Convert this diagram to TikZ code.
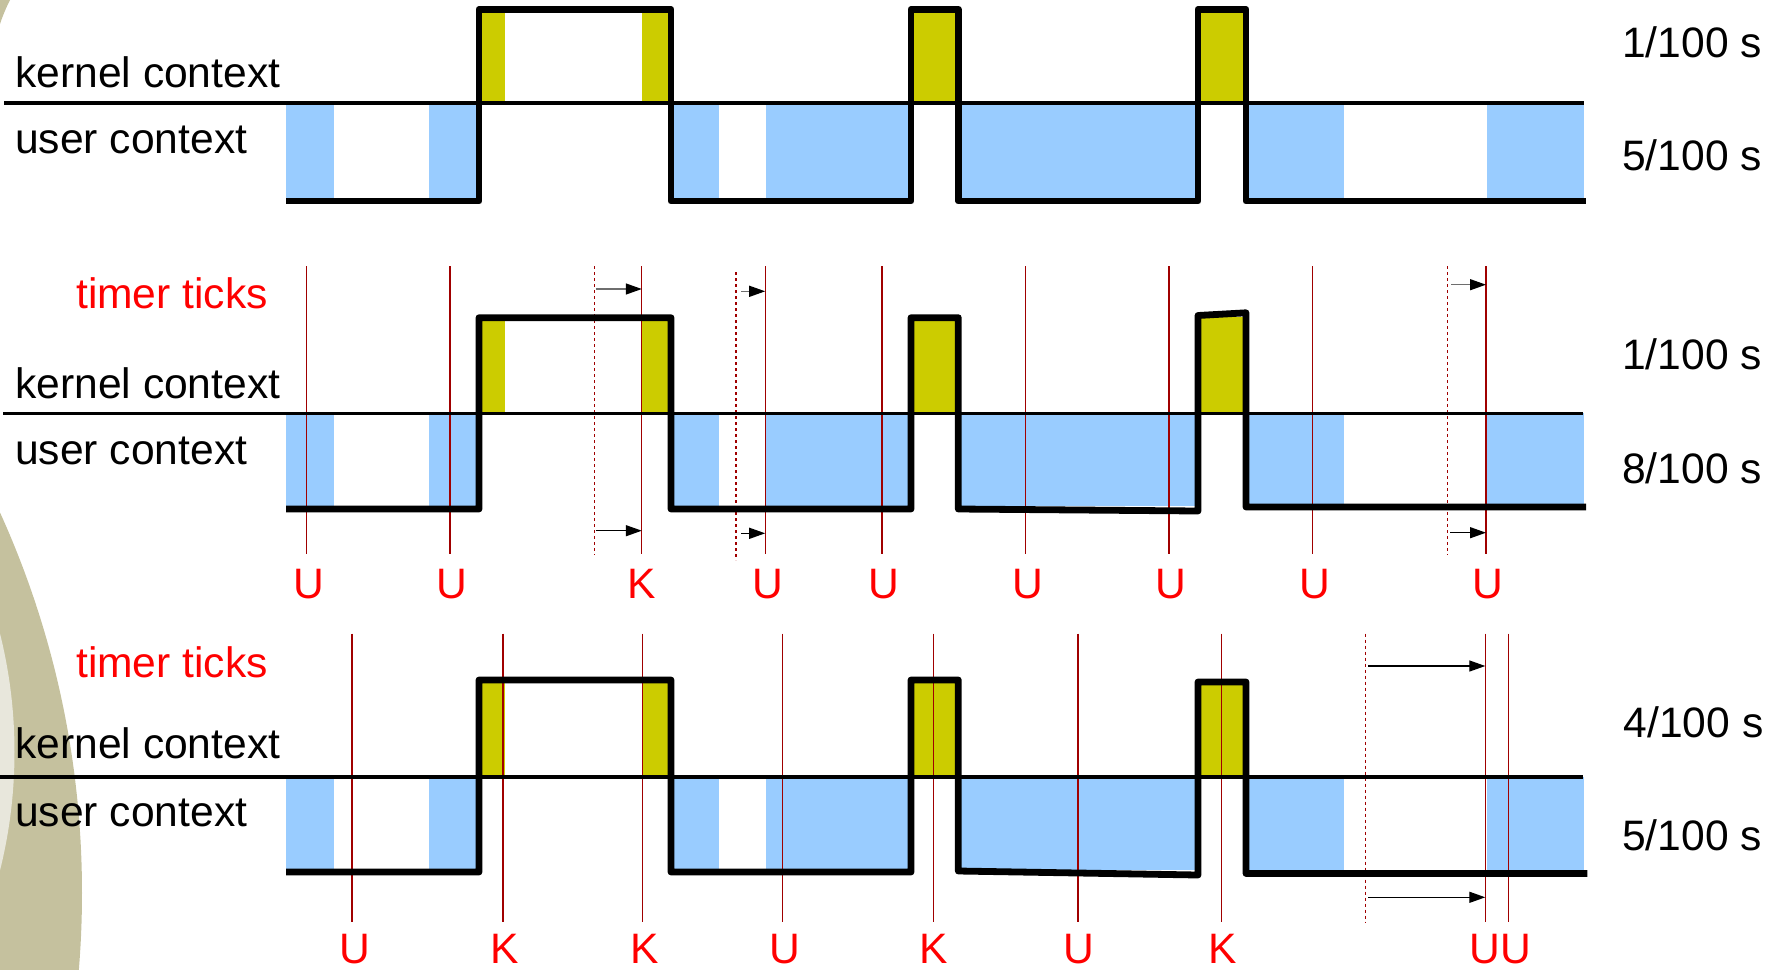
\documentclass[tikz,border=0pt]{standalone}
\usepackage{fontspec}
\setmainfont{Liberation Sans}
\usetikzlibrary{arrows.meta}
\definecolor{ublue}{HTML}{99CCFF}
\definecolor{kyel}{HTML}{CCCC00}
\definecolor{tickred}{HTML}{A00000}
\definecolor{oliveA}{HTML}{C5C19E}
\definecolor{oliveB}{HTML}{E8E7DC}
\tikzset{
  sig/.style={line width=6.8pt, line join=round, black},
  sepline/.style={line width=3.6pt, black},
  tickln/.style={tickred, line width=1.2pt},
  dtickln/.style={tickred, line width=1.1pt, dash pattern=on 3pt off 3pt},
  tarr/.style={line width=1.3pt, -{Triangle[length=16pt,width=11pt,color=black]}},
  tarrg/.style={tarr, draw={rgb,255:red,110;green,110;blue,110}},
  txt/.style={font=\fontsize{42.6pt}{50pt}\selectfont, inner sep=0pt, anchor=base west},
  rtxt/.style={txt, text=red},
  ticklbl/.style={font=\fontsize{42.6pt}{50pt}\selectfont, inner sep=0pt, anchor=base, text=red}
}
\begin{document}
\begin{tikzpicture}[x=1pt,y=-1pt]
\useasboundingbox (0,0) rectangle (1768,969);
% background ornament
\begin{scope}
\clip (0,0) rectangle (1768,969);
\fill[oliveA] (-839.3,893) circle (921.3);
\fill[oliveB] (-472.5,752) circle (487);
\fill[oliveA] (0,0) -- (10,0) .. controls (6,8) and (3,15) .. (0,24) -- cycle;
\end{scope}

% ---------- fills ----------
% panel 1
\foreach \a/\b in {286/334.3, 429/479, 674/718.7, 766/911, 958.3/1198, 1246/1344, 1486.5/1584}
  \fill[ublue] (\a,102.7) rectangle (\b,198);
\foreach \a/\b in {479/505, 641.7/671, 911/958.3, 1198/1246}
  \fill[kyel] (\a,9.3) rectangle (\b,102.7);
% panel 2
\foreach \a/\b in {286/334.3, 429/479, 674/718.7, 766/911, 958.3/1198, 1246/1344, 1486.5/1584}
  \fill[ublue] (\a,413.3) rectangle (\b,506);
\foreach \a/\b in {479/505, 641.7/671, 911/958.3, 1198/1246}
  \fill[kyel] (\a,317) rectangle (\b,413.3);
% panel 3
\foreach \a/\b in {286/334.3, 429/479, 674/718.7, 766/911, 958.3/1198, 1246/1344, 1486.5/1584}
  \fill[ublue] (\a,776.7) rectangle (\b,870);
\foreach \a/\b in {479/505, 641.7/671, 911/958.3, 1198/1246}
  \fill[kyel] (\a,681) rectangle (\b,776.7);

% ---------- timer ticks ----------
\foreach \x in {306.5, 449.9, 641.8, 765.2, 882, 1025.7, 1169, 1312.6, 1486}
  \draw[tickln] (\x,266) -- (\x,554);
\draw[dtickln] (594.5,266) -- (594.5,555);
\draw[dtickln] (736,272) -- (736,560);
\draw[dtickln] (1447.8,266) -- (1447.8,555);
\foreach \x in {352, 502.9, 642.7, 782.5, 933.6, 1078, 1221.2, 1485.3, 1508.7}
  \draw[tickln] (\x,633.5) -- (\x,921.7);
\draw[dtickln] (1365.4,633.5) -- (1365.4,921.7);

% ---------- context separators ----------
\draw[sepline] (4,102.7) -- (1584,102.7);
\draw[sepline] (3,413.3) -- (1583,413.3);
\draw[sepline] (0,776.7) -- (1583,776.7);

% ---------- execution signal ----------
\draw[sig] (286,201) -- (479,201) -- (479,9.3) -- (671,9.3) -- (671,201) -- (911,201)
  -- (911,9.3) -- (958.3,9.3) -- (958.3,201) -- (1198,201) -- (1198,9.3) -- (1246,9.3)
  -- (1246,201) -- (1586,201);
\draw[sig] (286,509) -- (479,509) -- (479,317.7) -- (671,317.7) -- (671,509) -- (911,509)
  -- (911,317.7) -- (958.3,317.7) -- (958.3,509) -- (1198,511) -- (1198,315.5) -- (1246,312.8)
  -- (1246,507) -- (1586,507);
\draw[sig] (286,872) -- (479,872) -- (479,680) -- (671,680) -- (671,872) -- (911,872)
  -- (911,680) -- (958.3,680) -- (958.3,871) -- (1198,875) -- (1198,682) -- (1246,682)
  -- (1246,873.5) -- (1587.3,873.5);

% ---------- tick shift arrows ----------
\coordinate (p2a1s) at (595.5,289);   \coordinate (p2a1e) at (641.8,289);
\coordinate (p2a2s) at (741,291.3);   \coordinate (p2a2e) at (765.2,291.3);
\coordinate (p2a3s) at (1451,284.7);  \coordinate (p2a3e) at (1486,284.7);
\coordinate (p2b1s) at (595.5,530.7); \coordinate (p2b1e) at (641.8,530.7);
\coordinate (p2b2s) at (741,533.3);   \coordinate (p2b2e) at (765.2,533.3);
\coordinate (p2b3s) at (1450,532.7);  \coordinate (p2b3e) at (1486,532.7);
\draw[tarrg] (p2a1s) -- (p2a1e);
\draw[tarrg] (p2a2s) -- (p2a2e);
\draw[tarrg] (p2a3s) -- (p2a3e);
\draw[tarr] (p2b1s) -- (p2b1e);
\draw[tarr] (p2b2s) -- (p2b2e);
\draw[tarr] (p2b3s) -- (p2b3e);
\coordinate (p3a1s) at (1368.3,666);   \coordinate (p3a1e) at (1485.3,666);
\coordinate (p3b1s) at (1368.3,897.3); \coordinate (p3b1e) at (1485.3,897.3);
\draw[tarr] (p3a1s) -- (p3a1e);
\draw[tarr] (p3b1s) -- (p3b1e);

% ---------- texts ----------
\node[txt] (k1) at (15,87.5) {kernel context};
\node[txt] (u1) at (15,153.5) {user context};
\node[txt] (r1a) at (1622,57) {1/100 s};
\node[txt] (r1b) at (1622,170.5) {5/100 s};

\node[rtxt] (t2) at (76,308) {timer ticks};
\node[txt] (k2) at (15,398) {kernel context};
\node[txt] (u2) at (15,464.5) {user context};
\node[txt] (r2a) at (1622,369.3) {1/100 s};
\node[txt] (r2b) at (1622,483.3) {8/100 s};

\node[rtxt] (t3) at (76,677) {timer ticks};
\node[txt] (k3) at (15,758.5) {kernel context};
\node[txt] (u3) at (15,826) {user context};
\node[txt] (r3a) at (1623.5,737.5) {4/100 s};
\node[txt] (r3b) at (1622,850.3) {5/100 s};

% tick labels panel 2
\node[ticklbl] (l21) at (308.5,598) {U};
\node[ticklbl] (l22) at (451.5,598) {U};
\node[ticklbl] (l23) at (641.5,598) {K};
\node[ticklbl] (l24) at (767.5,598) {U};
\node[ticklbl] (l25) at (884,598) {U};
\node[ticklbl] (l26) at (1027.5,598) {U};
\node[ticklbl] (l27) at (1171,598) {U};
\node[ticklbl] (l28) at (1314.5,598) {U};
\node[ticklbl] (l29) at (1488,598) {U};
% tick labels panel 3
\node[ticklbl] (l31) at (354.5,963.3) {U};
\node[ticklbl] (l32) at (505,963.3) {K};
\node[ticklbl] (l33) at (645,963.3) {K};
\node[ticklbl] (l34) at (785,963.3) {U};
\node[ticklbl] (l35) at (933.5,963.3) {K};
\node[ticklbl] (l36) at (1078.5,963.3) {U};
\node[ticklbl] (l37) at (1222.5,963.3) {K};
\node[ticklbl] (l38) at (1500.5,963.3) {UU};
\end{tikzpicture}
\end{document}
